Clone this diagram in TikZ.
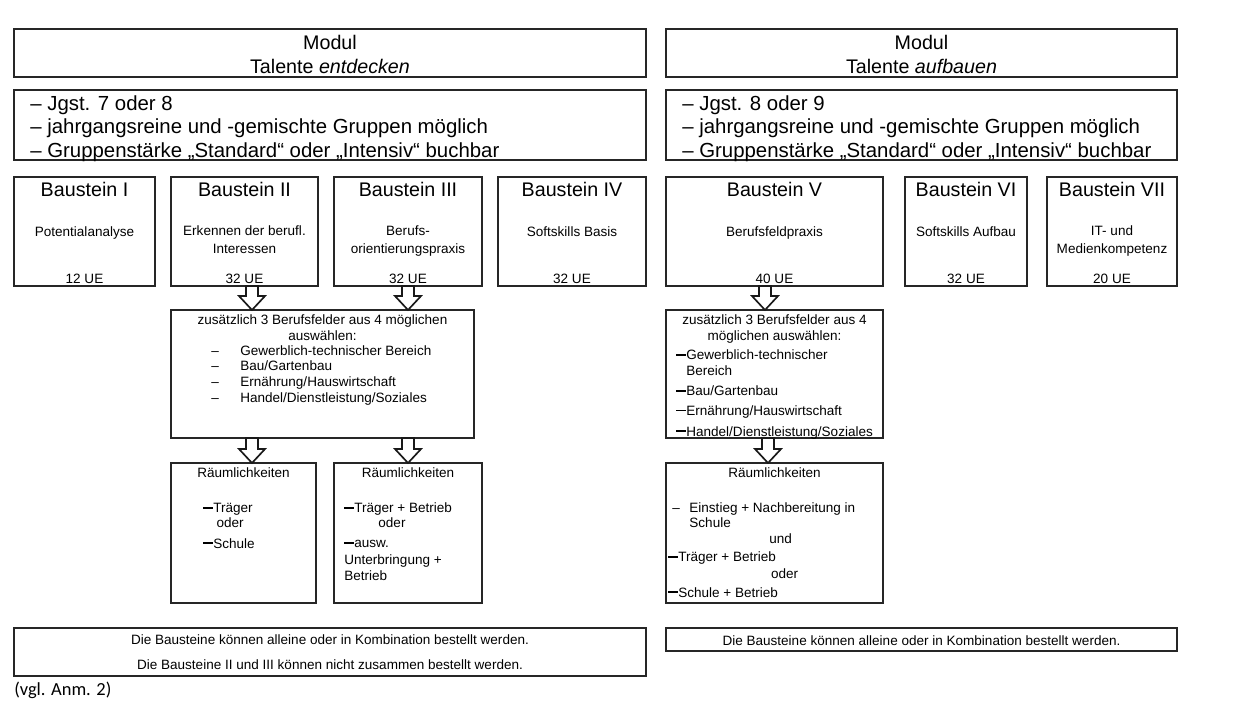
\documentclass[tikz,border=0pt]{standalone}
\usepackage{fontspec}
\setmainfont{Liberation Sans}
\newfontfamily\calibri{Carlito}
\usetikzlibrary{calc}

\newcommand{\strich}{\rule[2.4pt]{5.7pt}{0.8pt}}

\tikzset{
  box/.style={draw=black!85, line width=0.85pt, anchor=north west, inner sep=0pt, outer sep=0pt},
  wh/.style 2 args={minimum width=#1*0.02cm, minimum height=#2*0.02cm},
  gross/.style={font=\fontsize{11.2}{13.3}\selectfont, inner sep=0pt, align=left},
  titel/.style={font=\fontsize{11.2}{13.3}\selectfont, inner sep=0pt, anchor=base},
  klein/.style={font=\fontsize{7.7}{9.7}\selectfont, inner sep=0pt, align=center, anchor=base},
  liste/.style={font=\fontsize{7.7}{8.6}\selectfont, inner sep=0pt, align=left, anchor=base west},
  pfeil/.style={draw=black!90, line width=0.95pt, fill=white, line join=miter},
}

% block arrow from lower edge of #2 to upper edge of #3 at x = #1
\newcommand{\blockpfeil}[3]{%
  \coordinate (o) at (#1,0 |- #2.south);
  \coordinate (u) at (#1,0 |- #3.north);
  \draw[pfeil] ($(o)+(-6,0)$) -- ($(o)+(6,0)$) -- ($(u)+(6,-14)$) -- ($(u)+(13,-14)$)
    -- (u) -- ($(u)+(-13,-14)$) -- ($(u)+(-6,-14)$) -- cycle;}

\begin{document}
\begin{tikzpicture}[x=0.02cm, y=-0.02cm]
\useasboundingbox (0,0) rectangle (1258,708);

% Modul boxes (y of multi-line texts = baseline of last line)
\node[box, wh={632}{48}] (modA) at (14,29) {};
\node[box, wh={511}{48}] (modB) at (666,29) {};
\node[gross, align=center, anchor=base] (modAt) at (modA.north |- 0,73) {Modul\\Talente \textit{entdecken}};
\node[gross, align=center, anchor=base] (modBt) at (modB.north |- 0,73) {Modul\\Talente \textit{aufbauen}};

% Rahmenbedingungen
\node[box, wh={632}{70}] (infoA) at (14,90) {};
\node[box, wh={511}{70}] (infoB) at (666,90) {};
\node[gross, font=\fontsize{11.6}{13.3}\selectfont, anchor=base west] (infoAt) at (30,157) {– Jgst. 7 oder 8\\– jahrgangsreine und -gemischte Gruppen möglich\\– Gruppenstärke „Standard“ oder „Intensiv“ buchbar};
\node[gross, font=\fontsize{11.6}{13.3}\selectfont, anchor=base west] (infoBt) at (682,157) {– Jgst. 8 oder 9\\– jahrgangsreine und -gemischte Gruppen möglich\\– Gruppenstärke „Standard“ oder „Intensiv“ buchbar};

% Bausteine
\node[box, wh={141}{109}] (bI) at (14,177) {};
\node[box, wh={147}{109}] (bII) at (171,177) {};
\node[box, wh={148}{109}] (bIII) at (334,177) {};
\node[box, wh={148}{109}] (bIV) at (498,177) {};
\node[box, wh={217}{109}] (bV) at (666,177) {};
\node[box, wh={122}{109}] (bVI) at (905,177) {};
\node[box, wh={130}{109}] (bVII) at (1047,177) {};

\node[titel] (tI) at (bI.north |- 0,196) {Baustein I};
\node[titel] (tII) at (bII.north |- 0,196) {Baustein II};
\node[titel] (tIII) at (bIII.north |- 0,196) {Baustein III};
\node[titel] (tIV) at (bIV.north |- 0,196) {Baustein IV};
\node[titel] (tV) at (bV.north |- 0,196) {Baustein V};
\node[titel] (tVI) at (bVI.north |- 0,196) {Baustein VI};
\node[titel] (tVII) at (bVII.north |- 0,196) {Baustein VII};

\node[klein] (iI) at (bI.north |- 0,236) {Potentialanalyse};
\node[klein] (iII) at (bII.north |- 0,253) {Erkennen der berufl.\\Interessen};
\node[klein] (iIII) at (bIII.north |- 0,253) {Berufs-\\orientierungspraxis};
\node[klein] (iIV) at (bIV.north |- 0,236) {Softskills Basis};
\node[klein] (iV) at (bV.north |- 0,236) {Berufsfeldpraxis};
\node[klein] (iVI) at (bVI.north |- 0,236) {Softskills Aufbau};
\node[klein] (iVII) at (bVII.north |- 0,253) {IT- und\\Medienkompetenz};

\node[klein] (uI) at (bI.north |- 0,283) {12 UE};
\node[klein] (uII) at (bII.north |- 0,283) {32 UE};
\node[klein] (uIII) at (bIII.north |- 0,283) {32 UE};
\node[klein] (uIV) at (bIV.north |- 0,283) {32 UE};
\node[klein] (uV) at (bV.north |- 0,283) {40 UE};
\node[klein] (uVI) at (bVI.north |- 0,283) {32 UE};
\node[klein] (uVII) at (bVII.north |- 0,283) {20 UE};

% Berufsfelder
\node[box, wh={303}{128}] (wahlA) at (171,310) {};
\node[box, wh={217}{128}] (wahlB) at (666,310) {};
\node[klein, font=\fontsize{7.7}{8.8}\selectfont] (wahlAt) at (wahlA.north |- 0,340) {zusätzlich 3 Berufsfelder aus 4 möglichen\\auswählen:};
\node[liste, font=\fontsize{7.7}{8.9}\selectfont] (wahlAl) at (211,402) {\makebox[16.5pt][l]{–}Gewerblich-technischer Bereich\\\makebox[16.5pt][l]{–}Bau/Gartenbau\\\makebox[16.5pt][l]{–}Ernährung/Hauswirtschaft\\\makebox[16.5pt][l]{–}Handel/Dienstleistung/Soziales};
\node[klein, font=\fontsize{7.7}{9.1}\selectfont] (wahlBt) at (wahlB.north |- 0,340) {zusätzlich 3 Berufsfelder aus 4\\möglichen auswählen:};
\node[liste, font=\fontsize{7.7}{9.1}\selectfont] (wahlBl) at (676,436) {\strich Gewerblich-technischer\\\phantom{\strich}Bereich\\[2.3pt]\strich Bau/Gartenbau\\[2.1pt]\strich Ernährung/Hauswirtschaft\\[2.6pt]\strich Handel/Dienstleistung/Soziales};

% Raeumlichkeiten
\node[box, wh={145}{140}] (raumA) at (171,463) {};
\node[box, wh={148}{140}] (raumB) at (334,463) {};
\node[box, wh={217}{140}] (raumC) at (666,463) {};
\node[klein] (rAt) at (raumA.north |- 0,477) {Räumlichkeiten};
\node[klein] (rBt) at (raumB.north |- 0,477) {Räumlichkeiten};
\node[klein] (rCt) at (raumC.north |- 0,477) {Räumlichkeiten};
\node[liste] (rAl) at (203,548) {\strich Träger\\\hspace{7.5pt}oder\\[2.8pt]\strich Schule};
\node[liste] (rBl) at (344,580) {\strich Träger + Betrieb\\\hspace{19.4pt}oder\\[2.8pt]\strich ausw.\\[1.1pt]Unterbringung +\\Betrieb};
\node[liste] (rCl) at (668,597) {\hspace{2.3pt}\makebox[9.7pt][l]{–}Einstieg + Nachbereitung in\\\hspace{12pt}Schule\\[0.6pt]\hspace{57.5pt}und\\[1.6pt]\strich Träger + Betrieb\\[0.6pt]\hspace{58.5pt}oder\\[2.2pt]\strich Schule + Betrieb};

% Pfeile
\blockpfeil{252}{bII}{wahlA}
\blockpfeil{408}{bIII}{wahlA}
\blockpfeil{765}{bV}{wahlB}
\blockpfeil{252}{wahlA}{raumA}
\blockpfeil{408}{wahlA}{raumB}
\blockpfeil{768}{wahlB}{raumC}

% Hinweise
\node[box, wh={632}{48}] (hinwA) at (14,628) {};
\node[box, wh={511}{23}] (hinwB) at (666,628) {};
\node[klein, font=\fontsize{7.7}{13.7}\selectfont] (hinwAt) at (hinwA.north |- 0,669) {Die Bausteine können alleine oder in Kombination bestellt werden.\\Die Bausteine II und III können nicht zusammen bestellt werden.};
\node[klein] (hinwBt) at (hinwB.north |- 0,645) {Die Bausteine können alleine oder in Kombination bestellt werden.};
\node[anchor=base west, inner sep=0pt, font=\calibri\fontsize{10.5}{12}\selectfont] (anm) at (14,695) {(vgl. Anm. 2)};
\end{tikzpicture}
\end{document}
